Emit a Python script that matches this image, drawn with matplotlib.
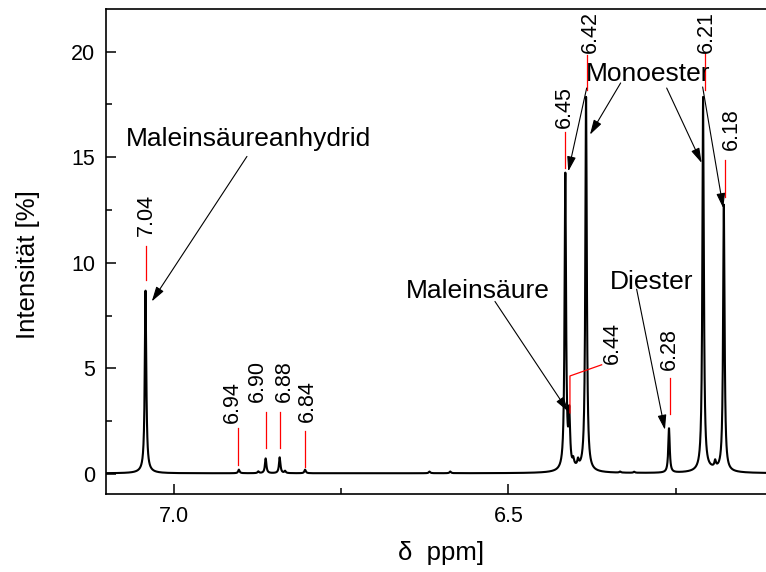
import matplotlib

matplotlib.use("Agg")
import matplotlib.pyplot as plt
from matplotlib.ticker import MultipleLocator
import numpy as np

plt.rcParams["font.family"] = ["Liberation Sans", "DejaVu Sans"]

# peak list: position on the axis [ppm], height [%], half width [ppm]
peak_pos = [7.0426, 6.903, 6.874, 6.863, 6.842, 6.834, 6.804, 6.618, 6.587,
            6.415, 6.409, 6.403, 6.396, 6.384, 6.333, 6.312, 6.260,
            6.209, 6.191, 6.178]
peak_height = [8.55, 0.17, 0.08, 0.7, 0.75, 0.1, 0.17, 0.08, 0.08,
               14.0, 2.4, 0.3, 0.3, 17.7, 0.05, 0.05, 2.1,
               17.7, 0.3, 12.6]
peak_hw = [0.0013] * len(peak_pos)
# broad feet under the big signals
broad_pos = [7.0426, 6.400, 6.195]
broad_height = [0.10, 0.15, 0.15]
broad_hw = [0.010, 0.020, 0.020]
baseline = 0.03

# assigned shifts written above the peaks
shift_labels = ["7.04", "6.94", "6.90", "6.88", "6.84", "6.45", "6.44",
                "6.42", "6.28", "6.21", "6.18"]


def lorentz(x, x0, h, g):
    return h * g ** 2 / ((x - x0) ** 2 + g ** 2)


ppm = np.linspace(6.10, 7.11, 40000)
intens = np.full_like(ppm, baseline)
for p, h, w in zip(peak_pos + broad_pos, peak_height + broad_height, peak_hw + broad_hw):
    intens += lorentz(ppm, p, h, w)

fig = plt.figure(figsize=(7.66, 5.72), dpi=100)
ax = fig.add_axes([0.1384, 0.1364, 0.8616, 0.847])
ax.plot(ppm, intens, color="black", lw=1.5)

# red marker lines: (x, y_top, y_bottom), then label anchor (x, y)
marks = [
    (7.0423, 10.82, 9.19, 7.0408, 11.25),
    (6.9039, 2.17, 0.43, 6.9129, 2.40),
    (6.8629, 2.95, 1.25, 6.8749, 3.43),
    (6.8416, 2.95, 1.25, 6.8351, 3.43),
    (6.8042, 2.04, 0.32, 6.8007, 2.48),
    (6.4155, 16.22, 14.49, 6.4166, 16.40),
    (6.4081, 4.64, 2.89, 6.3443, 5.21),
    (6.3822, 19.86, 18.20, 6.3782, 19.95),
    (6.2590, 4.56, 2.83, 6.2596, 4.93),
    (6.2067, 19.95, 18.20, 6.2037, 19.95),
    (6.1764, 14.88, 13.13, 6.1674, 15.36),
]
for (mx, y0, y1, tx, ty), lab in zip(marks, shift_labels):
    if lab == "6.44":
        ax.plot([mx, mx, 6.3607], [y1, y0, 5.17], color="red", lw=0.9)
    else:
        ax.plot([mx, mx], [y1, y0], color="red", lw=0.9)
    ax.text(tx, ty, lab, rotation=90, ha="center", va="bottom", fontsize=15.5)

arrow = dict(arrowstyle="-|>,head_length=0.75,head_width=0.22", mutation_scale=12,
             color="black", lw=0.8, shrinkA=0, shrinkB=0)

ax.text(6.888, 15.88, "Maleinsäureanhydrid", ha="center", va="center", fontsize=19)
ax.annotate("", xy=(7.0333, 8.17), xytext=(6.891, 15.04), arrowprops=arrow)

ax.text(6.5456, 8.67, "Maleinsäure", ha="center", va="center", fontsize=19)
ax.annotate("", xy=(6.4106, 2.95), xytext=(6.5202, 8.17), arrowprops=arrow)

ax.text(6.2855, 9.10, "Diester", ha="center", va="center", fontsize=19)
ax.annotate("", xy=(6.2661, 2.09), xytext=(6.3084, 8.75), arrowprops=arrow)

ax.text(6.2915, 18.96, "Monoester", ha="center", va="center", fontsize=19)
for start, tip in [((6.3831, 18.28), (6.4106, 14.33)),
                   ((6.3323, 18.52), (6.3782, 16.07)),
                   ((6.2635, 18.28), (6.2112, 14.73)),
                   ((6.2097, 18.33), (6.1789, 12.59))]:
    ax.annotate("", xy=tip, xytext=start, arrowprops=arrow)

ax.set_xlim(7.1017, 6.115)
ax.set_ylim(-0.95, 22.0)
ax.xaxis.set_major_locator(MultipleLocator(0.5))
ax.xaxis.set_minor_locator(MultipleLocator(0.25))
ax.yaxis.set_major_locator(MultipleLocator(5))
ax.yaxis.set_minor_locator(MultipleLocator(2.5))
ax.tick_params(which="both", direction="in", width=1.1, labelsize=15.5)
ax.tick_params(which="major", length=7.2)
ax.tick_params(which="minor", length=4)
ax.tick_params(axis="x", pad=9)
ax.tick_params(axis="y", pad=8)
for s in ["left", "bottom", "top"]:
    ax.spines[s].set_linewidth(1.2)
ax.spines["right"].set_visible(False)

ax.set_xlabel("δ  ppm]", fontsize=18.5)
ax.set_ylabel("Intensität [%]", fontsize=18.5)
ax.xaxis.set_label_coords(0.5076, -0.097)
ax.yaxis.set_label_coords(-0.10, 0.473)

plt.savefig("out.png", dpi=100)
